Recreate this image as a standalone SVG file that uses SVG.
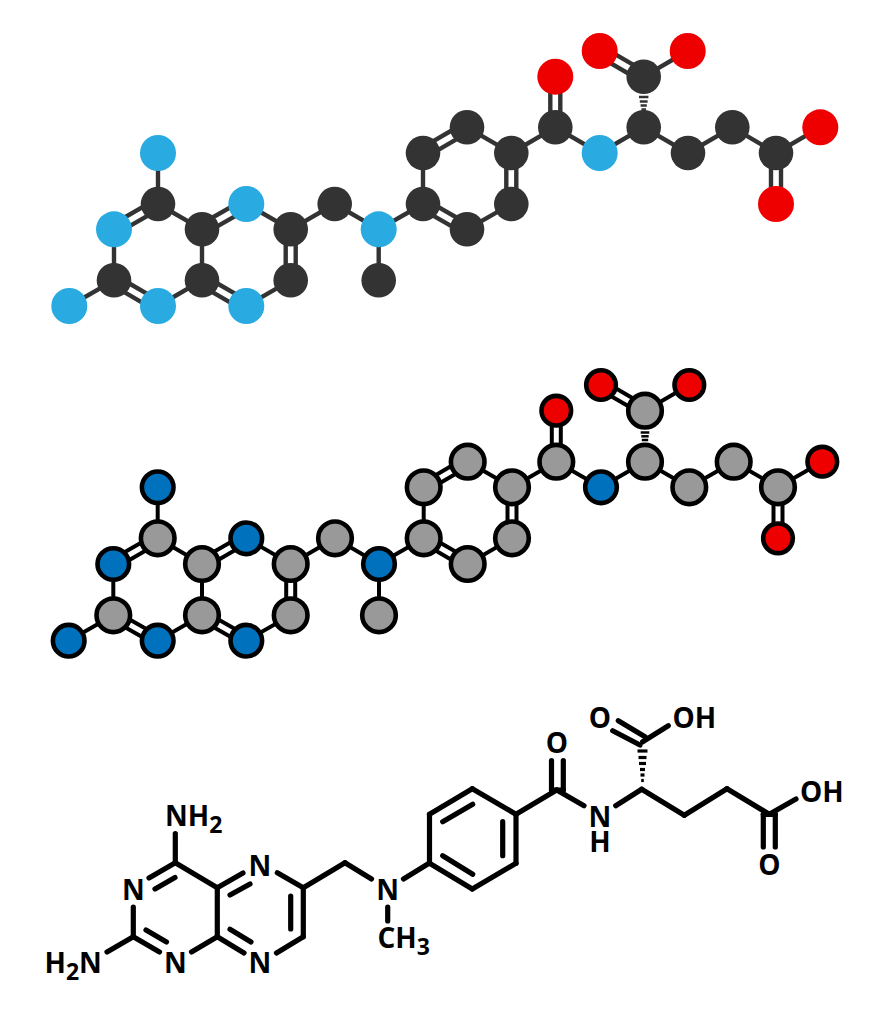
<svg xmlns="http://www.w3.org/2000/svg" width="890" height="1024" viewBox="0 0 890 1024">
<style>
.bt line{stroke:#333;stroke-width:4.4;fill:none}
.bm line{stroke:#000;stroke-width:4;fill:none}
.bb line{stroke:#000;stroke-width:5.2;fill:none;stroke-linecap:round}
.tc{fill:#333}.tn{fill:#29abe2}.to{fill:#ee0000}
.mc{fill:#999;stroke:#000;stroke-width:4.6}.mn{fill:#0071bc;stroke:#000;stroke-width:4.6}.mo{fill:#ee0000;stroke:#000;stroke-width:4.6}
text{font-family:"Open Sans","Liberation Sans",sans-serif;font-weight:700;font-size:28px;fill:#000}
.m{text-anchor:middle}
</style>
<rect width="890" height="1024" fill="#fff"/>
<g id="top-bonds" class="bt">
<line x1="158" y1="153" x2="158" y2="204"/>
<line x1="155.500" y1="199.700" x2="111.500" y2="225"/><line x1="160.500" y1="208.300" x2="116.500" y2="233.600"/>
<line x1="114" y1="229.300" x2="114" y2="280.300"/>
<line x1="111.500" y1="284.600" x2="155.500" y2="310.300"/><line x1="116.500" y1="276" x2="160.500" y2="301.700"/>
<line x1="114" y1="280.300" x2="69.300" y2="306"/>
<line x1="158" y1="306" x2="202" y2="280.300"/>
<line x1="202" y1="280.300" x2="202" y2="229.300"/>
<line x1="158" y1="204" x2="202" y2="229.300"/>
<line x1="199.500" y1="225" x2="243.800" y2="199.700"/><line x1="204.500" y1="233.600" x2="248.800" y2="208.300"/>
<line x1="199.500" y1="284.600" x2="243.800" y2="310.300"/><line x1="204.500" y1="276" x2="248.800" y2="301.700"/>
<line x1="246.300" y1="204" x2="290.700" y2="229.300"/>
<line x1="246.300" y1="306" x2="290.700" y2="280.300"/>
<line x1="285.700" y1="229.300" x2="285.700" y2="280.300"/><line x1="295.700" y1="229.300" x2="295.700" y2="280.300"/>
<line x1="290.700" y1="229.300" x2="334.700" y2="204"/>
<line x1="334.700" y1="204" x2="378.700" y2="229.300"/>
<line x1="378.700" y1="229.300" x2="378.700" y2="280.300"/>
<line x1="378.700" y1="229.300" x2="423" y2="204"/>
<line x1="423" y1="204" x2="423" y2="153"/>
<line x1="420.500" y1="148.700" x2="464.500" y2="123"/><line x1="425.500" y1="157.300" x2="469.500" y2="131.600"/>
<line x1="467" y1="127.300" x2="511.300" y2="153"/>
<line x1="506.300" y1="153" x2="506.300" y2="204"/><line x1="516.300" y1="153" x2="516.300" y2="204"/>
<line x1="511.300" y1="204" x2="467" y2="229.300"/>
<line x1="420.500" y1="208.300" x2="464.500" y2="233.600"/><line x1="425.500" y1="199.700" x2="469.500" y2="225"/>
<line x1="511.300" y1="153" x2="555.300" y2="127.300"/>
<line x1="550.300" y1="127.300" x2="550.300" y2="76.700"/><line x1="560.300" y1="127.300" x2="560.300" y2="76.700"/>
<line x1="555.300" y1="127.300" x2="599.700" y2="153"/>
<line x1="599.700" y1="153" x2="643.700" y2="127.300"/>
<line x1="646.200" y1="72.400" x2="602.200" y2="46.700"/><line x1="641.200" y1="81" x2="597.200" y2="55.300"/>
<line x1="643.700" y1="76.700" x2="687.700" y2="51"/>
<line x1="643.700" y1="127.300" x2="688" y2="153"/>
<line x1="688" y1="153" x2="732.300" y2="127.300"/>
<line x1="732.300" y1="127.300" x2="776" y2="153"/>
<line x1="776" y1="153" x2="820.300" y2="127.300"/>
<line x1="771" y1="153" x2="771" y2="204"/><line x1="781" y1="153" x2="781" y2="204"/>
<line x1="639" y1="97" x2="648.400" y2="97" style="stroke-width:2.500"/><line x1="639.800" y1="101.500" x2="647.600" y2="101.500" style="stroke-width:2.500"/><line x1="640.600" y1="105.500" x2="646.800" y2="105.500" style="stroke-width:2.500"/><line x1="641.400" y1="109.500" x2="646" y2="109.500" style="stroke-width:2.500"/>
</g>
<g id="top-atoms">
<circle id="t1" class="tn" cx="158" cy="153" r="18"/><circle id="t2" class="tc" cx="158" cy="204" r="17.300"/><circle id="t3" class="tn" cx="114" cy="229.300" r="18"/><circle id="t4" class="tc" cx="114" cy="280.300" r="17.300"/><circle id="t5" class="tn" cx="69.300" cy="306" r="18"/><circle id="t6" class="tn" cx="158" cy="306" r="18"/><circle id="t7" class="tc" cx="202" cy="280.300" r="17.300"/><circle id="t8" class="tc" cx="202" cy="229.300" r="17.300"/><circle id="t9" class="tn" cx="246.300" cy="204" r="18"/><circle id="t10" class="tc" cx="290.700" cy="229.300" r="17.300"/><circle id="t11" class="tc" cx="290.700" cy="280.300" r="17.300"/><circle id="t12" class="tn" cx="246.300" cy="306" r="18"/><circle id="t13" class="tc" cx="334.700" cy="204" r="17.300"/><circle id="t14" class="tn" cx="378.700" cy="229.300" r="18"/><circle id="t15" class="tc" cx="378.700" cy="280.300" r="17.300"/><circle id="t16" class="tc" cx="423" cy="204" r="17.300"/><circle id="t17" class="tc" cx="423" cy="153" r="17.300"/><circle id="t18" class="tc" cx="467" cy="127.300" r="17.300"/><circle id="t19" class="tc" cx="511.300" cy="153" r="17.300"/><circle id="t20" class="tc" cx="511.300" cy="204" r="17.300"/><circle id="t21" class="tc" cx="467" cy="229.300" r="17.300"/><circle id="t22" class="tc" cx="555.300" cy="127.300" r="17.300"/><circle id="t23" class="to" cx="555.300" cy="76.700" r="18"/><circle id="t24" class="tn" cx="599.700" cy="153" r="18"/><circle id="t25" class="tc" cx="643.700" cy="127.300" r="17.300"/><circle id="t26" class="tc" cx="643.700" cy="76.700" r="17.300"/><circle id="t27" class="to" cx="599.700" cy="51" r="18"/><circle id="t28" class="to" cx="687.700" cy="51" r="18"/><circle id="t29" class="tc" cx="688" cy="153" r="17.300"/><circle id="t30" class="tc" cx="732.300" cy="127.300" r="17.300"/><circle id="t31" class="tc" cx="776" cy="153" r="17.300"/><circle id="t32" class="to" cx="820.300" cy="127.300" r="18"/><circle id="t33" class="to" cx="776" cy="204" r="18"/>
</g>
<g id="mid-bonds" class="bm">
<line x1="157.700" y1="487.300" x2="157.700" y2="538.300"/>
<line x1="155.400" y1="534.400" x2="111" y2="560"/><line x1="160" y1="542.200" x2="115.600" y2="568"/>
<line x1="113.300" y1="564" x2="113.300" y2="615.300"/>
<line x1="111" y1="619.200" x2="155.400" y2="644.600"/><line x1="115.600" y1="611.400" x2="160" y2="636.800"/>
<line x1="113.300" y1="615.300" x2="68.700" y2="640.700"/>
<line x1="157.700" y1="640.700" x2="202" y2="615.300"/>
<line x1="202" y1="615.300" x2="202" y2="564"/>
<line x1="157.700" y1="538.300" x2="202" y2="564"/>
<line x1="199.700" y1="560" x2="244" y2="534.400"/><line x1="204.300" y1="568" x2="248.600" y2="542.200"/>
<line x1="199.700" y1="619.200" x2="244" y2="644.600"/><line x1="204.300" y1="611.400" x2="248.600" y2="636.800"/>
<line x1="246.300" y1="538.300" x2="290.700" y2="564"/>
<line x1="246.300" y1="640.700" x2="290.700" y2="615.300"/>
<line x1="286.200" y1="564" x2="286.200" y2="615.300"/><line x1="295.200" y1="564" x2="295.200" y2="615.300"/>
<line x1="290.700" y1="564" x2="335" y2="538.300"/>
<line x1="335" y1="538.300" x2="379" y2="564"/>
<line x1="379" y1="564" x2="379" y2="615.300"/>
<line x1="379" y1="564" x2="423.700" y2="538.300"/>
<line x1="423.700" y1="538.300" x2="423.700" y2="487.300"/>
<line x1="421.400" y1="483.400" x2="465.400" y2="457.800"/><line x1="426" y1="491.200" x2="470" y2="465.600"/>
<line x1="467.700" y1="461.700" x2="512" y2="487.300"/>
<line x1="507.500" y1="487.300" x2="507.500" y2="538.300"/><line x1="516.500" y1="487.300" x2="516.500" y2="538.300"/>
<line x1="512" y1="538.300" x2="467.700" y2="564"/>
<line x1="421.400" y1="542.200" x2="465.400" y2="567.900"/><line x1="426" y1="534.400" x2="470" y2="560.100"/>
<line x1="512" y1="487.300" x2="556.300" y2="461.700"/>
<line x1="551.800" y1="461.700" x2="551.800" y2="410.700"/><line x1="560.800" y1="461.700" x2="560.800" y2="410.700"/>
<line x1="556.300" y1="461.700" x2="601" y2="487.300"/>
<line x1="601" y1="487.300" x2="645" y2="461.700"/>
<line x1="647.300" y1="406.800" x2="603.300" y2="381.100"/><line x1="642.700" y1="414.600" x2="598.700" y2="388.900"/>
<line x1="645" y1="410.700" x2="689.300" y2="385"/>
<line x1="645" y1="461.700" x2="689.300" y2="487.300"/>
<line x1="689.300" y1="487.300" x2="733.700" y2="461.700"/>
<line x1="733.700" y1="461.700" x2="778" y2="487.300"/>
<line x1="778" y1="487.300" x2="822.300" y2="461.700"/>
<line x1="773.500" y1="487.300" x2="773.500" y2="538.300"/><line x1="782.500" y1="487.300" x2="782.500" y2="538.300"/>
<line x1="640.700" y1="432.500" x2="649.300" y2="432.500" style="stroke-width:2.500"/><line x1="641.300" y1="436.300" x2="648.700" y2="436.300" style="stroke-width:2.500"/><line x1="641.800" y1="440" x2="648.200" y2="440" style="stroke-width:2.500"/>
</g>
<g id="mid-atoms">
<circle id="m1" class="mn" cx="157.700" cy="487.300" r="15.800"/><circle id="m2" class="mc" cx="157.700" cy="538.300" r="16.800"/><circle id="m3" class="mn" cx="113.300" cy="564" r="15.800"/><circle id="m4" class="mc" cx="113.300" cy="615.300" r="16.800"/><circle id="m5" class="mn" cx="68.700" cy="640.700" r="15.800"/><circle id="m6" class="mn" cx="157.700" cy="640.700" r="15.800"/><circle id="m7" class="mc" cx="202" cy="615.300" r="16.800"/><circle id="m8" class="mc" cx="202" cy="564" r="16.800"/><circle id="m9" class="mn" cx="246.300" cy="538.300" r="15.800"/><circle id="m10" class="mc" cx="290.700" cy="564" r="16.800"/><circle id="m11" class="mc" cx="290.700" cy="615.300" r="16.800"/><circle id="m12" class="mn" cx="246.300" cy="640.700" r="15.800"/><circle id="m13" class="mc" cx="335" cy="538.300" r="16.800"/><circle id="m14" class="mn" cx="379" cy="564" r="15.800"/><circle id="m15" class="mc" cx="379" cy="615.300" r="16.800"/><circle id="m16" class="mc" cx="423.700" cy="538.300" r="16.800"/><circle id="m17" class="mc" cx="423.700" cy="487.300" r="16.800"/><circle id="m18" class="mc" cx="467.700" cy="461.700" r="16.800"/><circle id="m19" class="mc" cx="512" cy="487.300" r="16.800"/><circle id="m20" class="mc" cx="512" cy="538.300" r="16.800"/><circle id="m21" class="mc" cx="467.700" cy="564" r="16.800"/><circle id="m22" class="mc" cx="556.300" cy="461.700" r="16.800"/><circle id="m23" class="mo" cx="556.300" cy="410.700" r="14.800"/><circle id="m24" class="mn" cx="601" cy="487.300" r="15.800"/><circle id="m25" class="mc" cx="645" cy="461.700" r="16.800"/><circle id="m26" class="mc" cx="645" cy="410.700" r="16.800"/><circle id="m27" class="mo" cx="601" cy="385" r="14.800"/><circle id="m28" class="mo" cx="689.300" cy="385" r="14.800"/><circle id="m29" class="mc" cx="689.300" cy="487.300" r="16.800"/><circle id="m30" class="mc" cx="733.700" cy="461.700" r="16.800"/><circle id="m31" class="mc" cx="778" cy="487.300" r="16.800"/><circle id="m32" class="mo" cx="822.300" cy="461.700" r="14.800"/><circle id="m33" class="mo" cx="778" cy="538.300" r="14.800"/>
</g>
<g id="formula-bonds" class="bb">
<line x1="175.300" y1="833.500" x2="175.300" y2="862.700"/>
<line x1="175.300" y1="862.700" x2="149" y2="878"/><line x1="175" y1="877.500" x2="155" y2="889"/>
<line x1="133.300" y1="907" x2="133.300" y2="936.700"/>
<line x1="133.300" y1="936.700" x2="159.500" y2="952"/><line x1="146" y1="930" x2="166.500" y2="942"/>
<line x1="133.300" y1="936.700" x2="107" y2="952"/>
<line x1="191.500" y1="952" x2="217.300" y2="936.700"/>
<line x1="217.300" y1="936.700" x2="217.300" y2="887.700"/>
<line x1="175.300" y1="862.700" x2="217.300" y2="887.700"/>
<line x1="217.300" y1="887.700" x2="243" y2="873"/><line x1="230" y1="895" x2="250" y2="884"/>
<line x1="217.300" y1="936.700" x2="244" y2="953"/><line x1="230" y1="929.300" x2="251" y2="942"/>
<line x1="277.300" y1="872.700" x2="303.300" y2="887.700"/>
<line x1="276.500" y1="953" x2="303.300" y2="936.700"/>
<line x1="303.300" y1="887.700" x2="303.300" y2="936.700"/><line x1="290.700" y1="896" x2="290.700" y2="929"/>
<line x1="303.300" y1="887.700" x2="345" y2="862.700"/>
<line x1="345" y1="862.700" x2="371.500" y2="879"/>
<line x1="387.700" y1="907" x2="387.700" y2="921"/>
<line x1="403.500" y1="879" x2="429.500" y2="863"/>
<line x1="429.500" y1="863.300" x2="429.500" y2="814.300"/>
<line x1="429.500" y1="814.300" x2="472.300" y2="788.700"/><line x1="442.700" y1="821.700" x2="472.700" y2="804.300"/>
<line x1="472.300" y1="788.700" x2="516" y2="814.300"/>
<line x1="516" y1="814.300" x2="516" y2="863.300"/><line x1="502.700" y1="821.700" x2="502.700" y2="855.700"/>
<line x1="516" y1="863.300" x2="472.300" y2="889"/>
<line x1="429.500" y1="863.300" x2="472.300" y2="889"/><line x1="442.700" y1="855.700" x2="472.700" y2="874.300"/>
<line x1="516" y1="814.300" x2="556.700" y2="790"/>
<line x1="551.500" y1="760.500" x2="551.500" y2="790"/><line x1="563.300" y1="760.500" x2="563.300" y2="790"/>
<line x1="551.500" y1="790" x2="563.300" y2="790"/>
<line x1="556.700" y1="790" x2="584" y2="805.700"/>
<line x1="615.700" y1="805.700" x2="641.700" y2="789.300"/>
<line x1="641.700" y1="789.300" x2="684.300" y2="815.300"/>
<line x1="684.300" y1="815.300" x2="727" y2="788.700"/>
<line x1="727" y1="788.700" x2="769.300" y2="814.300"/>
<line x1="769.300" y1="814.300" x2="796" y2="799"/>
<line x1="763.300" y1="814.300" x2="763.300" y2="847"/><line x1="775.300" y1="814.300" x2="775.300" y2="847"/>
<line x1="763.300" y1="814.300" x2="775.300" y2="814.300"/>
<line x1="642.700" y1="741.700" x2="668.300" y2="725.700"/>
<line x1="618.300" y1="720.700" x2="645" y2="736.700"/><line x1="612.700" y1="730.700" x2="640" y2="745"/>
</g>
<g id="hash-wedge" style="stroke:#000;stroke-width:3.200">
<line x1="637.500" y1="751" x2="647.500" y2="751"/><line x1="638.500" y1="757.500" x2="646.500" y2="757.500"/><line x1="639" y1="763.500" x2="646" y2="763.500"/><line x1="640" y1="769.500" x2="645" y2="769.500"/><line x1="640.500" y1="775" x2="644.500" y2="775"/><line x1="641.200" y1="780.500" x2="643.800" y2="780.500"/>
</g>
<g id="formula-labels">
<text id="l-nh2" x="165" y="826">NH<tspan font-size="23" dy="7">2</tspan></text>
<text id="l-n3" class="m" x="133.300" y="900">N</text>
<text id="l-n1" class="m" x="175.300" y="973.300">N</text>
<text id="l-h2n" x="44.500" y="973.300">H<tspan font-size="23" dy="7">2</tspan><tspan dy="-7">N</tspan></text>
<text id="l-n5" class="m" x="260" y="875.700">N</text>
<text id="l-n8" class="m" x="260" y="973.300">N</text>
<text id="l-n" class="m" x="387.700" y="900">N</text>
<text id="l-ch3" x="377.500" y="948.300">CH<tspan font-size="23" dy="7">3</tspan></text>
<text id="l-o1" class="m" x="557" y="753.300">O</text>
<text id="l-nh" class="m" x="600" y="826.700">N<tspan x="600" dy="25.600">H</tspan></text>
<text id="l-o2" class="m" x="600" y="728.300">O</text>
<text id="l-oh1" x="672.500" y="728.300">OH</text>
<text id="l-oh2" x="800" y="802.300">OH</text>
<text id="l-o3" class="m" x="769.300" y="875">O</text>
</g>
</svg>
